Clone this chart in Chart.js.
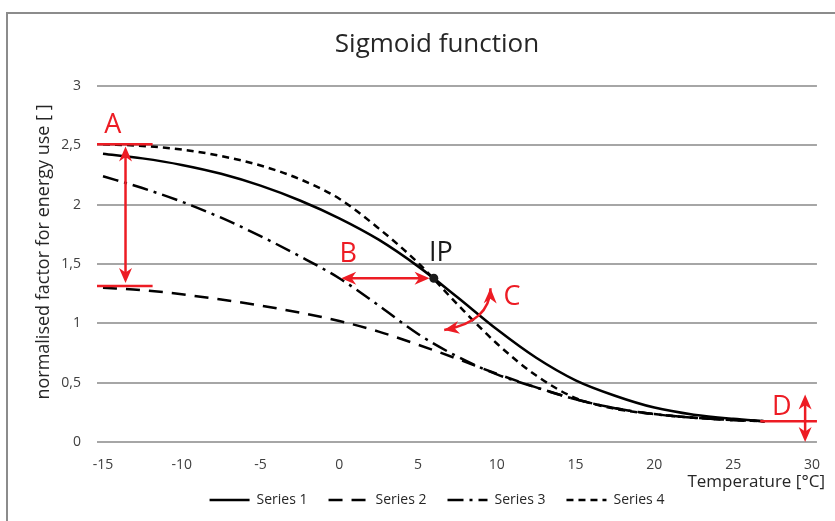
<!DOCTYPE html>
<html>
<head>
<meta charset="utf-8">
<script src="https://cdn.jsdelivr.net/npm/chart.js@4.4.1/dist/chart.umd.min.js"></script>
<style>
  html, body { margin: 0; background: #fff; overflow: hidden; }
  .frame {
    position: absolute; left: 6px; top: 12px; width: 840px; height: 520px;
    border-left: 2px solid #8c8c8c; border-top: 2px solid #8c8c8c;
  }
  canvas { position: absolute; left: 0; top: 0; }
</style>
</head>
<body>
<div class="frame"></div>
<canvas id="sigmoidChart" width="835" height="521"></canvas>
<script>
// temperatures in °C and the normalised factor for each curve
const temps   = [-15, -12.5, -10, -7.5, -5, -2.5, 0, 2.5, 5, 7.5, 10, 12.5, 15, 17.5, 20, 22.5, 25, 27];
const series1 = [2.43, 2.39, 2.335, 2.26, 2.16, 2.035, 1.885, 1.705, 1.48, 1.22, 0.95, 0.71, 0.52, 0.39, 0.29, 0.23, 0.195, 0.175];
const series2 = [1.30, 1.28, 1.245, 1.20, 1.15, 1.09, 1.02, 0.93, 0.82, 0.70, 0.575, 0.46, 0.36, 0.285, 0.235, 0.205, 0.185, 0.175];
const series3 = [2.24, 2.14, 2.025, 1.89, 1.735, 1.565, 1.38, 1.15, 0.91, 0.72, 0.57, 0.46, 0.36, 0.285, 0.235, 0.205, 0.185, 0.175];
const series4 = [2.51, 2.495, 2.465, 2.41, 2.33, 2.215, 2.05, 1.80, 1.51, 1.16, 0.83, 0.56, 0.37, 0.28, 0.235, 0.205, 0.185, 0.175];
const seriesNames = ['Series 1', 'Series 2', 'Series 3', 'Series 4'];
const xTicks = [-15, -10, -5, 0, 5, 10, 15, 20, 25, 30];
const yTicks = [0, 0.5, 1, 1.5, 2, 2.5, 3];

const FONT = "'Open Sans', sans-serif";
const RED = '#ed1c24';
const INK = '#262626';

const lineStyles = [
  { borderWidth: 2.5, borderDash: [] },
  { borderWidth: 2.5, borderDash: [14, 9] },
  { borderWidth: 2.5, borderDash: [16, 6, 3, 6] },
  { borderWidth: 2.5, borderDash: [7, 5] }
];

function arrowHead(ctx, tipX, tipY, angle) {
  const len = 15, half = 6.5;
  ctx.save();
  ctx.translate(tipX, tipY);
  ctx.rotate(angle);
  ctx.beginPath();
  ctx.moveTo(0, 0);
  ctx.lineTo(-len, -half);
  ctx.lineTo(-len * 0.7, 0);
  ctx.lineTo(-len, half);
  ctx.closePath();
  ctx.fill();
  ctx.restore();
}

function doubleArrow(ctx, x1, y1, x2, y2) {
  const a = Math.atan2(y2 - y1, x2 - x1);
  const dx = Math.cos(a) * 9, dy = Math.sin(a) * 9;
  ctx.beginPath();
  ctx.moveTo(x1 + dx, y1 + dy);
  ctx.lineTo(x2 - dx, y2 - dy);
  ctx.stroke();
  arrowHead(ctx, x2, y2, a);
  arrowHead(ctx, x1, y1, a + Math.PI);
}

function curvedArrow(ctx, x1, y1, cx, cy, x2, y2) {
  ctx.beginPath();
  ctx.moveTo(x1, y1);
  ctx.quadraticCurveTo(cx, cy, x2, y2);
  ctx.stroke();
  arrowHead(ctx, x1, y1, Math.atan2(y1 - cy, x1 - cx));
  arrowHead(ctx, x2, y2, Math.atan2(y2 - cy, x2 - cx));
}

function hLine(ctx, x1, x2, yy) {
  ctx.beginPath();
  ctx.moveTo(x1, yy);
  ctx.lineTo(x2, yy);
  ctx.stroke();
}

// axis captions plus the red A-D parameter markers and the inflection point
const sigmoidNotes = {
  id: 'sigmoidNotes',
  afterDraw(chart) {
    const { ctx, chartArea: area, scales: { x, y } } = chart;
    const X = v => x.getPixelForValue(v);
    const Y = v => y.getPixelForValue(v);

    ctx.save();
    ctx.fillStyle = INK;
    ctx.textBaseline = 'middle';
    ctx.font = `17px ${FONT}`;
    ctx.textAlign = 'right';
    ctx.fillText('Temperature [°C]', area.right + 8, area.bottom + 40);

    ctx.save();
    ctx.translate(area.left - 53, (area.top + area.bottom) / 2 - 12);
    ctx.rotate(-Math.PI / 2);
    ctx.textAlign = 'center';
    ctx.font = `18px ${FONT}`;
    ctx.fillText('normalised factor for energy use [ ]', 0, 0);
    ctx.restore();

    ctx.strokeStyle = RED;
    ctx.fillStyle = RED;
    ctx.lineWidth = 2.5;

    // A: span between the two asymptotes
    hLine(ctx, X(-15.38), X(-11.85), Y(2.51));
    hLine(ctx, X(-15.38), X(-11.85), Y(1.315));
    doubleArrow(ctx, X(-13.57), Y(2.49), X(-13.57), Y(1.34));

    // B: shift of the inflection point
    doubleArrow(ctx, X(0.12), Y(1.38), X(5.73), Y(1.38));

    // C: slope at the inflection point
    curvedArrow(ctx, X(6.66), Y(0.944), X(9.55), Y(1.01), X(9.6), Y(1.295));

    // D: lower asymptote
    hLine(ctx, X(26.72), X(30.32), Y(0.175));
    doubleArrow(ctx, X(29.57), Y(0.40), X(29.57), Y(0.0));

    ctx.font = `27px ${FONT}`;
    ctx.textAlign = 'center';
    ctx.fillText('A', X(-14.37), Y(2.67));
    ctx.fillText('B', X(0.57), Y(1.58));
    ctx.fillText('C', X(10.97), Y(1.22));
    ctx.fillText('D', X(28.09), Y(0.29));

    ctx.fillStyle = '#1a1a1a';
    ctx.beginPath();
    ctx.arc(X(6), Y(1.38), 4.5, 0, Math.PI * 2);
    ctx.fill();
    ctx.fillText('IP', X(6.45), Y(1.59));
    ctx.restore();
  }
};

const curves = [series1, series2, series3, series4];

new Chart(document.getElementById('sigmoidChart'), {
  type: 'line',
  data: {
    datasets: curves.map((vals, i) => ({
      label: seriesNames[i],
      data: temps.map((t, j) => ({ x: t, y: vals[j] })),
      borderColor: '#000',
      backgroundColor: '#000',
      borderWidth: lineStyles[i].borderWidth,
      borderDash: lineStyles[i].borderDash,
      borderCapStyle: 'butt',
      pointRadius: 0,
      cubicInterpolationMode: 'monotone',
      fill: false
    }))
  },
  options: {
    responsive: false,
    animation: false,
    devicePixelRatio: 1,
    layout: { padding: { top: 16, right: 13, bottom: 4, left: 52 } },
    plugins: {
      title: {
        display: true,
        text: 'Sigmoid function',
        color: INK,
        font: { family: FONT, size: 26, weight: 'normal' },
        padding: { top: 13.4, bottom: 25.4 }
      },
      legend: {
        position: 'bottom',
        labels: {
          usePointStyle: true,
          pointStyle: 'line',
          pointStyleWidth: 40,
          padding: 21,
          color: INK,
          font: { family: FONT, size: 14 },
          // point style swatches do not pick up the line dash, so copy it over
          generateLabels: chart =>
            Chart.defaults.plugins.legend.labels.generateLabels(chart).map((item, i) => ({
              ...item,
              lineDash: lineStyles[i].borderDash,
              lineWidth: lineStyles[i].borderWidth,
              strokeStyle: '#000'
            }))
        }
      },
      tooltip: { enabled: false }
    },
    scales: {
      x: {
        type: 'linear',
        min: -15.38,
        max: 30.32,
        afterBuildTicks: axis => { axis.ticks = xTicks.map(v => ({ value: v })); },
        afterFit: axis => { axis.height = 30; },
        grid: { display: false, drawTicks: false },
        border: { display: false },
        ticks: { padding: 15, color: '#404040', font: { family: FONT, size: 14 } }
      },
      y: {
        min: 0,
        max: 3,
        afterBuildTicks: axis => { axis.ticks = yTicks.map(v => ({ value: v })); },
        afterFit: axis => { axis.width = 45; },
        grid: { color: '#a6a6a6', lineWidth: 2, drawTicks: false },
        border: { display: false },
        ticks: {
          padding: 16,
          color: '#404040',
          font: { family: FONT, size: 14 },
          callback: v => String(v).replace('.', ',')
        }
      }
    }
  },
  plugins: [sigmoidNotes]
});
</script>
</body>
</html>
